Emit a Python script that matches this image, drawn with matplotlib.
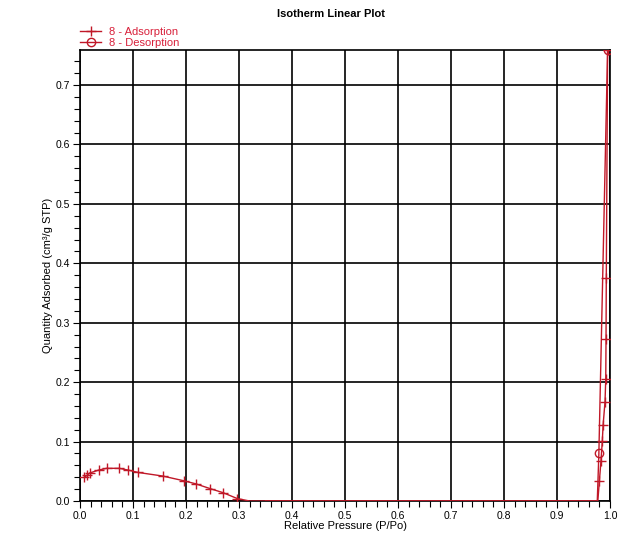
import numpy as np
import matplotlib
matplotlib.use('Agg')
import matplotlib.pyplot as plt
from matplotlib.ticker import MultipleLocator

plt.rcParams['font.family'] = ['Liberation Sans', 'DejaVu Sans']

# Adsorption branch (values below zero are drawn flat on the axis)
ads_p = [0.008, 0.013, 0.018, 0.035, 0.050, 0.074, 0.091, 0.110, 0.156, 0.196,
         0.218, 0.245, 0.270, 0.297, 0.32, 0.45, 0.55, 0.65, 0.75, 0.85,
         0.95, 0.977, 0.980, 0.983, 0.9855, 0.987, 0.9906, 0.992, 0.9925,
         0.993, 0.9955]
ads_q = [0.040, 0.043, 0.047, 0.052, 0.055, 0.055, 0.052, 0.048, 0.042, 0.034,
         0.029, 0.021, 0.014, 0.004, -0.02, -0.02, -0.02, -0.02, -0.02, -0.02,
         -0.02, -0.02, 0.034, 0.068, 0.101, 0.128, 0.167, 0.205, 0.272,
         0.375, 0.759]

# Desorption branch
des_p = [0.9955, 0.979, 0.976, 0.90, 0.70, 0.50, 0.35]
des_q = [0.759, 0.080, -0.02, -0.02, -0.02, -0.02, -0.02]

line_color = '#c01828'
text_color = '#d8203a'


def draw_branch(ax, p, q, marker, mfc, label):
    p = np.array(p)
    q = np.array(q)
    ms = 7 if marker == '+' else 6
    # line sits on the axis where the quantity goes negative
    ax.plot(p, np.clip(q, 0, None), color=line_color, lw=1.0, zorder=3)
    ax.plot(p, q, linestyle='none', marker=marker, markersize=ms,
            markeredgewidth=1.0, color=line_color, markerfacecolor=mfc, zorder=4)
    # proxy for the legend
    return ax.plot([], [], color=line_color, lw=1.0, marker=marker, markersize=ms,
                   markerfacecolor=mfc, markeredgewidth=1.0, label=label)[0]


fig = plt.figure(figsize=(6.44, 5.56), dpi=100)
ax = fig.add_axes([80 / 644, 1 - 501 / 556, 530 / 644, 451 / 556])

h1 = draw_branch(ax, ads_p, ads_q, '+', line_color, '8 - Adsorption')
h2 = draw_branch(ax, des_p, des_q, 'o', 'none', '8 - Desorption')

ax.set_xlim(0, 1.0)
ax.set_ylim(0, 0.759)
ax.xaxis.set_major_locator(MultipleLocator(0.1))
ax.xaxis.set_minor_locator(MultipleLocator(0.02))
ax.yaxis.set_major_locator(MultipleLocator(0.1))
ax.yaxis.set_minor_locator(MultipleLocator(0.02))
ax.xaxis.set_major_formatter(matplotlib.ticker.FormatStrFormatter('%.1f'))
ax.yaxis.set_major_formatter(matplotlib.ticker.FormatStrFormatter('%.1f'))
ax.tick_params(which='major', direction='out', length=5, width=0.8, labelsize=7.5, pad=2)
ax.tick_params(which='minor', direction='out', length=4, width=0.8)
ax.grid(which='major', color='black', linewidth=1.2)
for s in ax.spines.values():
    s.set_linewidth(1.2)

ax.set_xlabel('Relative Pressure (P/Po)', fontsize=8, labelpad=0)
ax.set_ylabel('Quantity Adsorbed (cm³/g STP)', fontsize=8, labelpad=2)

fig.text(331 / 644, 1 - 14 / 556, 'Isotherm Linear Plot', ha='center', va='center',
         fontsize=8, fontweight='bold')

leg = fig.legend(handles=[h1, h2], loc='upper left', bbox_to_anchor=(80 / 644, 1 - 27 / 556),
                 frameon=False, fontsize=8, handlelength=1.9, handletextpad=0.7,
                 labelspacing=0.05, borderpad=0, borderaxespad=0)
for t in leg.get_texts():
    t.set_color(text_color)

fig.savefig('out.png', dpi=100)
